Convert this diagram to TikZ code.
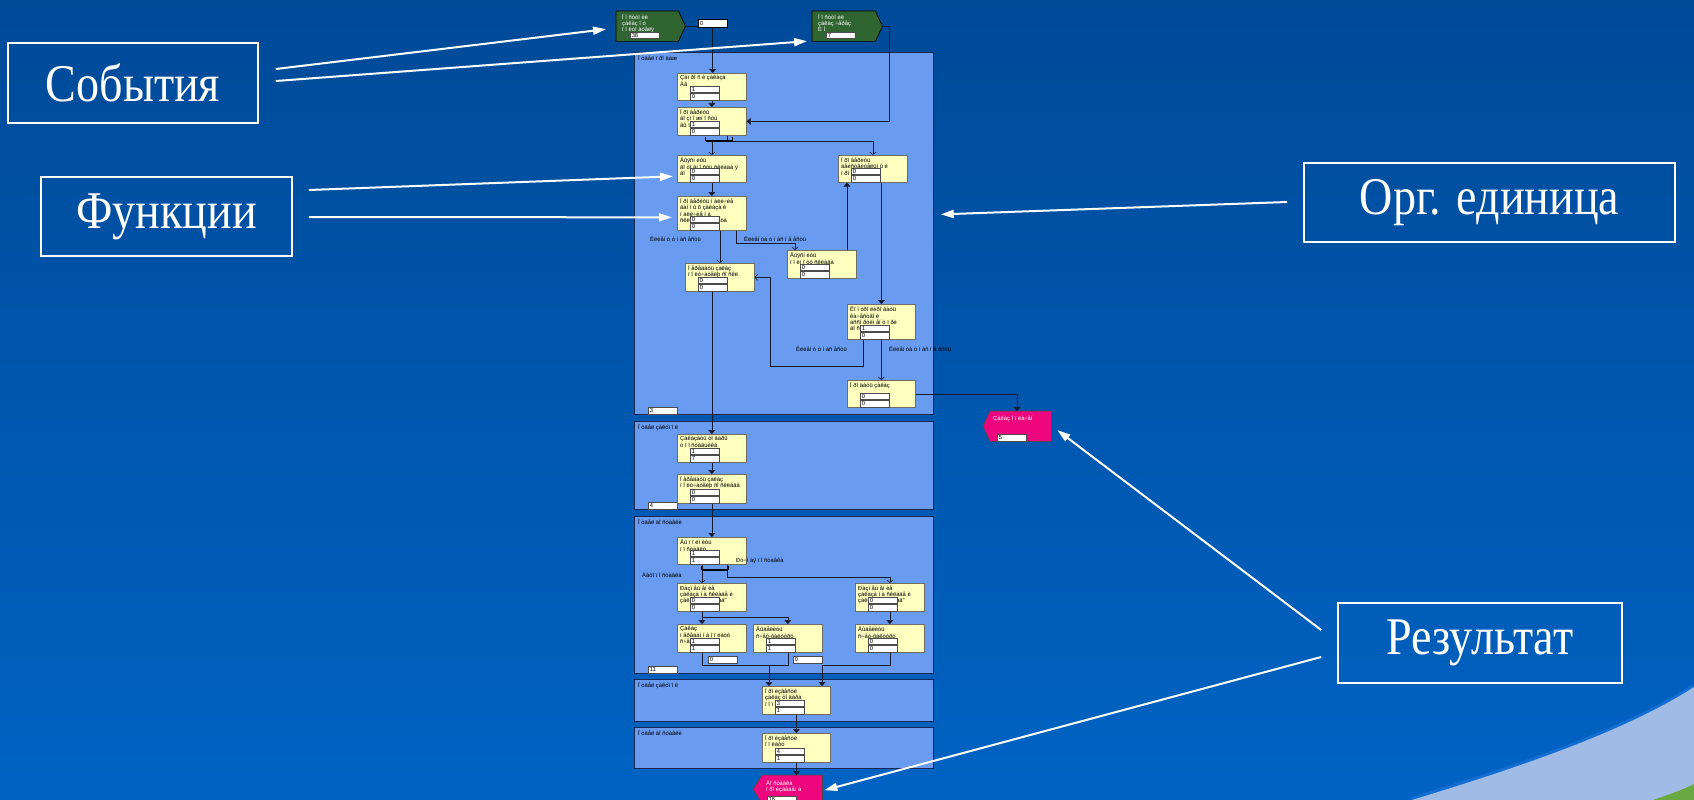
\documentclass[tikz,border=0pt]{standalone}
\usepackage{fontspec}
\setmainfont{Liberation Serif}
\newfontfamily\smallsans{Liberation Sans}
\usetikzlibrary{arrows.meta,calc}

\definecolor{bgtop}{RGB}{0,74,152}
\definecolor{bgbot}{RGB}{0,99,195}
\definecolor{lanefill}{RGB}{105,156,240}
\definecolor{laneline}{RGB}{28,40,80}
\definecolor{fnfill}{RGB}{255,255,192}
\definecolor{fnline}{RGB}{110,110,100}
\definecolor{evfill}{RGB}{48,100,48}
\definecolor{resfill}{RGB}{238,6,126}
\definecolor{swoosh}{RGB}{160,188,230}
\definecolor{swooshedge}{RGB}{20,110,210}
\definecolor{grn}{RGB}{106,168,66}
\definecolor{connc}{RGB}{20,25,45}

\tikzset{
  lanebox/.style={draw=laneline, line width=0.8pt, fill=lanefill, anchor=north west, inner sep=0},
  fnbox/.style={draw=fnline, line width=0.7pt, fill=fnfill, anchor=north west, inner sep=0},
  fntext/.style={anchor=north west, inner sep=0, font=\smallsans\fontsize{5.8}{6.3}\selectfont, align=left, text=black},
  whtext/.style={fntext, text=white},
  valbox/.style={draw=black!70, line width=0.5pt, fill=white, inner xsep=1.5pt, inner ysep=0pt,
    text width=25.5pt, align=left, minimum height=6.8pt, text height=4pt, text depth=0pt,
    font=\smallsans\fontsize{5.8}{6}\selectfont},
  conn/.style={draw=connc, line width=0.6pt},
  ftip/.style={-{Triangle[length=4pt,width=7pt]}},
  otip/.style={-{Straight Barb[length=2.5pt,width=6pt]}},
  opbar/.style={fill=black, inner sep=0, minimum width=26pt, minimum height=2pt},
  annot/.style={draw=white, line width=1.6pt, text=white, inner sep=0,
    font=\fontsize{53}{58}\selectfont},
  warrow/.style={draw=white, line width=2pt, -{Triangle[length=13pt,width=8pt]}},
  brlabel/.style={anchor=west, inner sep=0, font=\smallsans\fontsize{5.8}{6}\selectfont, text=black}
}

\newcommand\fnc[8]{%
  \node[fnbox, minimum width={(#4)-(#2)}, minimum height={(#5)-(#3)}] (#1) at (#2,#3) {};
  \node[fntext] at ([shift={(3pt,-2.5pt)}]#1.north west) {#6};
  \node[valbox, anchor=south west] (#1b) at ([shift={(13pt,0.6pt)}]#1.south west) {#8};
  \node[valbox, anchor=south west] (#1a) at (#1b.north west) {#7};
}
\newcommand\narrow[1]{\scalebox{0.87}[1]{#1}}

\begin{document}
\begin{tikzpicture}[x=1pt,y=-1pt]
\useasboundingbox (0,0) rectangle (1694,800);
\clip (0,0) rectangle (1694,800);
\shade[top color=bgtop, bottom color=bgbot] (0,0) rectangle (1694,800);

% background swoosh
\draw[swooshedge, line width=6pt] (1412,800) .. controls (1500,773) and (1620,735) .. (1694,687);
\fill[swoosh] (1412,800) .. controls (1500,773) and (1620,735) .. (1694,687) -- (1694,800) -- cycle;
\fill[grn] (1653,800) .. controls (1670,794) and (1685,789) .. (1694,784) -- (1694,800) -- cycle;

% lanes
\node[lanebox, minimum width=299pt, minimum height=362pt] (L1) at (634,52) {};
\node[lanebox, minimum width=299pt, minimum height=88pt] (L2) at (634,421) {};
\node[lanebox, minimum width=299pt, minimum height=157pt] (L3) at (634,516) {};
\node[lanebox, minimum width=299pt, minimum height=42pt] (L4) at (634,679) {};
\node[lanebox, minimum width=299pt, minimum height=41pt] (L5) at (634,727) {};
\node[fntext] at ([shift={(4pt,-3pt)}]L1.north west) {Î òäåë ï ðî äàæ};
\node[fntext] at ([shift={(4pt,-3pt)}]L2.north west) {Î òäåë çàêóï î ê};
\node[fntext] at ([shift={(4pt,-3pt)}]L3.north west) {Î òäåë äî ñòàâêè};
\node[fntext] at ([shift={(4pt,-3pt)}]L4.north west) {Î òäåë çàêóï î ê};
\node[fntext] at ([shift={(4pt,-3pt)}]L5.north west) {Î òäåë äî ñòàâêè};
\node[valbox, anchor=north west] (lv1) at (648,407) {3};
\node[valbox, anchor=north west] (lv2) at (648,502) {4};
\node[valbox, anchor=north west] (lv3) at (648,666) {11};

% events
\node[inner sep=0, minimum width=62pt, minimum height=30pt, anchor=north west] (E1) at (616,11) {};
\path[fill=evfill, draw=black, line width=0.7pt] (E1.north west) -- (E1.north east) -- ([xshift=7pt]E1.east) -- (E1.south east) -- (E1.south west) -- cycle;
\coordinate (E1tip) at ([xshift=7pt]E1.east);
\node[whtext] at ([shift={(6pt,-3pt)}]E1.north west) {Ï î ñòóï èë\\çàêàç î ò\\ï î êóï àòåëÿ};
\node[valbox, anchor=south west] (E1v) at ([shift={(14pt,2.5pt)}]E1.south west) {38};

\node[inner sep=0, minimum width=63pt, minimum height=30pt, anchor=north west] (E2) at (812,11) {};
\path[fill=evfill, draw=black, line width=0.7pt] (E2.north west) -- (E2.north east) -- ([xshift=7pt]E2.east) -- (E2.south east) -- (E2.south west) -- cycle;
\coordinate (E2tip) at ([xshift=7pt]E2.east);
\node[whtext] at ([shift={(6pt,-3pt)}]E2.north west) {Ï î ñòóï èë\\çàêàç ÷åðåç\\È Í};
\node[valbox, anchor=south west] (E2v) at ([shift={(14pt,2.5pt)}]E2.south west) {7};

\node[valbox, draw=black, line width=1pt, anchor=north west, minimum height=8pt] (box0) at (698,19) {0};

% results
\node[inner sep=0, minimum width=61pt, minimum height=30pt, anchor=north west] (R1) at (990,411) {};
\path[fill=resfill, draw=black!70, line width=0.7pt] (R1.north west) -- (R1.north east) -- (R1.south east) -- (R1.south west) -- ([xshift=-7pt]R1.west) -- cycle;
\node[whtext] at ([shift={(3pt,-5pt)}]R1.north west) {Çàêàç î ï ëà÷åí};
\node[valbox, anchor=south west] (R1v) at ([shift={(7pt,0pt)}]R1.south west) {5};

\node[inner sep=0, minimum width=60pt, minimum height=28pt, anchor=north west] (R2) at (762,775) {};
\path[fill=resfill, draw=black!70, line width=0.7pt] (R2.north west) -- (R2.north east) -- (R2.south east) -- (R2.south west) -- ([xshift=-9pt]R2.west) -- cycle;
\node[whtext] at ([shift={(4pt,-5pt)}]R2.north west) {Äî ñòàâêà\\ï ðî èçâåäåí à};
\node[valbox, anchor=south west] (R2v) at ([shift={(5pt,0pt)}]R2.south west) {16};

% functions
\fnc{F1}{677}{73}{746}{100}{Çàï ðî ñ è çàêàçà\\Àâ}{1}{0}
\fnc{F2}{677}{107}{746}{135}{Ï ðî âåðèòü\\âî çì î æí î ñòü\\âû ï î ëí åí èÿ}{1}{0}
\fnc{F3}{677}{155}{746}{182}{Âûÿñí èòü\\ãî òî âí î ñòü ñêëàäà ÿ\\âî}{0}{0}
\fnc{F4}{838}{155}{907}{182}{Ï ðî âåðèòü\\äåéñòâèòåëüí û é\\ï ðî äàâöà}{0}{0}
\fnc{F5}{677}{196}{746}{230}{Ï ðî âåðèòü í àëè÷èå\\äàí í û õ çàêàçà è\\í àëè÷èå í à\\ñêëàäå ï ðî äàâöà}{0}{0}
\fnc{F6}{685}{263}{754}{291}{Ï åðåäàòü çàêàç\\ï î ëó÷àòåëþ ñî ñêë}{0}{0}
\fnc{F7}{787}{250}{856}{278}{Âûÿñí èòü\\ï î ëí î òó ñêëàäà}{0}{0}
\fnc{F8}{847}{304}{915}{339}{Êî í òðî ëèðî âàòü\\êà÷åñòâî è\\àññî ðòèì åí ò ï ðè\\äî ñòàâêå}{1}{0}
\fnc{F9}{847}{380}{915}{407}{Ï ðî äàòü çàêàç}{0}{0}
\fnc{F10}{677}{434}{746}{462}{Çàêàçàòü òî âàðû\\ó ï î ñòàâùèêà}{1}{7}
\fnc{F11}{677}{474}{746}{503}{Ï åðåäàòü çàêàç\\ï î ëó÷àòåëþ ñî ñêëàäà}{0}{0}
\fnc{F12}{677}{537}{746}{564}{Âû ï î ëí èòü\\ï î ñòàâêó}{1}{1}
\fnc{F13}{677}{583}{746}{611}{Ðàçì åù åí èå\\çàêàçà í à ñêëàäå è\\çàêàçà í à ñêëàä"}{0}{0}
\fnc{F14}{855}{583}{924}{611}{Ðàçì åù åí èå\\çàêàçà í à ñêëàäå è\\çàêàçà í à ñêëàä"}{0}{0}
\fnc{F15}{677}{624}{746}{652}{Çàêàç\\ï åðåäàí í à î ï ëàòó\\ñ÷åò}{1}{1}
\fnc{F16}{753}{624}{822}{652}{Âûäåëèòü\\ñ÷åò-ôàêòóðó}{1}{1}
\fnc{F17}{855}{624}{924}{652}{Âûäåëèòü\\ñ÷åò-ôàêòóðó}{0}{0}
\fnc{F18}{762}{686}{830}{714}{Ï ðî èçâåñòè\\çàêàç òî âàðà\\ï î ï ëàòó}{3}{1}
\fnc{F19}{762}{733}{830}{762}{Ï ðî èçâåñòè\\î ï ëàòó}{4}{1}

\node[valbox, anchor=north west] (z1) at (708,656) {0};
\node[valbox, anchor=north west] (z2) at (793,656) {0};

% operators
\node[opbar] (op1) at (719,141) {};
\draw[line width=1.2pt] (op1.west) -- ++(0,4pt) (op1.east) -- ++(0,4pt);
\node[opbar] (op2) at (715,570) {};
\draw[line width=1.2pt] (op2.west) -- ++(0,4pt) (op2.east) -- ++(0,4pt);

% branch labels
\node[brlabel] (lb1) at (650,239) {Êëèåí ò ó í àñ åñòü};
\node[brlabel] (lb2) at (744,239) {Êëèåí òà ó í àñ í å åñòü};
\node[brlabel] (lb3) at (796,349) {Êëèåí ò ó í àñ åñòü};
\node[brlabel] (lb4) at (889,349) {Êëèåí òà ó í àñ í å åñòü};
\node[brlabel] (lb5) at (736,561) {Ðó÷í àÿ ï î ñòàâêà};
\node[brlabel] (lb6) at (642,575) {Àâòî ï î ñòàâêà};

% connectors
\draw[conn] (E1tip) -- (E1tip -| box0.west);
\draw[conn,ftip] (box0.south) -- (box0.south |- F1.north);
\draw[conn,ftip] (F1.south) -- (F2.north);
\draw[conn,ftip] (E2tip) -- ++(7pt,0) |- (F2.east);
\coordinate (f2b) at ([xshift=50pt]F2.south west);
\draw[conn] (f2b) -- (f2b |- op1.north);
\draw[conn,otip] (F3.north |- op1.south) -- (F3.north);
\draw[conn,otip] (op1.east) -| (F4.north);
\draw[conn,ftip] (F3.south) -- (F5.north);
\draw[conn,otip] (F6.north |- F5.south) -- (F6.north);
\coordinate (f5r) at ([xshift=59pt]F5.south west);
\coordinate (f7t) at ([xshift=8pt]F7.north west);
\draw[conn,otip] (f5r) -- ++(0,-13pt) -| (f7t);
\coordinate (f7r) at ([xshift=60pt]F7.north west);
\draw[conn,ftip] (f7r) -- (f7r |- F4.south);
\draw[conn,ftip] (F8.north |- F4.south) -- (F8.north);
\coordinate (f8l) at ([xshift=16pt]F8.south west);
\coordinate (cl1) at (770,366);
\draw[conn,otip] (f8l) |- (cl1) |- (F6.east);
\draw[conn,otip] (F9.north |- F8.south) -- (F9.north);
\draw[conn,ftip] (F9.east) -| ([xshift=27pt]R1.north west);
\draw[conn,ftip] (F10.north |- F6.south) -- (F10.north);
\draw[conn,ftip] (F10.south) -- (F11.north);
\draw[conn,ftip] (F11.south) -- (F12.north);
\coordinate (f12l) at ([xshift=25pt]F12.south west);
\coordinate (f12r) at ([xshift=50pt]F12.south west);
\draw[conn] (f12l) -- (f12l |- op2.north);
\draw[conn] (f12r) -- (f12r |- op2.north);
\coordinate (f13t) at ([xshift=25pt]F13.north west);
\draw[conn,otip] (f13t |- op2.south) -- (f13t);
\draw[conn,otip] (f12r |- op2.south) -- ++(0,-6pt) -| (F14.north);
\coordinate (f13b) at ([xshift=25pt]F13.south west);
\coordinate (f15t) at ([xshift=25pt]F15.north west);
\draw[conn,ftip] (f13b) -- (f15t);
\draw[conn,ftip] (f13b) -- ++(0,-6pt) -| (F16.north);
\draw[conn,ftip] (F14.south) -- (F17.north);
\coordinate (f15b) at ([xshift=25pt]F15.south west);
\coordinate (jn) at (769,665);
\draw[conn] (f15b) |- (F16.south |- jn) -- (F16.south);
\draw[conn,ftip] (jn) -- (jn |- F18.north);
\coordinate (jn2) at (822,665);
\draw[conn,ftip] (F17.south) |- (jn2) -- (jn2 |- F18.north);
\draw[conn,ftip] (F18.south) -- (F19.north);
\draw[conn,ftip] (F19.south) -- (F19.south |- R2.north);

% annotations
\node[annot, minimum width=250pt, minimum height=80pt] (aSob) at (133,83) {\narrow{События}};
\node[annot, minimum width=251pt, minimum height=79pt] (aFun) at (166.5,216.5) {\narrow{Функции}};
\node[annot, minimum width=371pt, minimum height=79pt] (aOrg) at (1489.5,202.5) {\narrow{Орг. единица}};
\node[annot, minimum width=284pt, minimum height=80pt] (aRes) at (1480,643) {\narrow{Результат}};

\draw[warrow] ([shift={(17pt,14pt)}]aSob.east) -- ([shift={(-10pt,-3pt)}]E1.west);
\draw[warrow] ([shift={(17pt,2pt)}]aSob.east) -- ([shift={(-5pt,-15pt)}]E2.west);
\draw[warrow] ([shift={(16pt,26.5pt)}]aFun.east) -- ([shift={(-4pt,-7.5pt)}]F3.west);
\draw[warrow] ([shift={(16pt,-0.5pt)}]aFun.east) -- ([shift={(-5pt,-4pt)}]F5.west);
\draw[warrow] ([shift={(-16pt,0.5pt)}]aOrg.west) -- ([shift={(7pt,19pt)}]L1.east);
\draw[warrow] ([shift={(-16pt,13pt)}]aRes.west) -- ([shift={(6pt,-4pt)}]R1.east);
\draw[warrow] ([shift={(-16pt,-14pt)}]aRes.west) -- ([shift={(2pt,-1pt)}]R2.east);
\end{tikzpicture}
\end{document}
